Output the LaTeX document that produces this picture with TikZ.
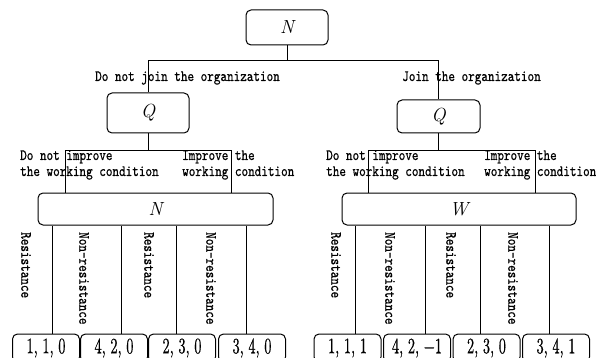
\documentclass[tikz,border=0pt]{standalone}
\usepackage{fontspec}
\usepackage{tikz}
\usetikzlibrary{calc}
\newfontfamily\labfont{lmmono10-regular.otf}[FakeStretch=0.8, FakeBold=0.7]
\newfontfamily\numfont{lmroman10-regular.otf}[FakeStretch=0.65, FakeBold=0.5]

\begin{document}
\begin{tikzpicture}[x=1pt, y=-1pt,
    box/.style={rectangle, draw, rounded corners=5pt, line width=1pt, inner sep=0pt, font=\fontsize{19}{20}\selectfont\itshape},
    leaf/.style={box, minimum width=67pt, minimum height=28pt, font=\numfont\fontsize{22}{24}\selectfont},
    lbl/.style={font=\labfont\fontsize{15.7}{16}\selectfont, inner sep=0pt},
    vlbl/.style={lbl, rotate=-90, anchor=west},
    link/.style={line width=1pt}
]
    \useasboundingbox (0,0) rectangle (596,358);

    % Decision nodes
    \node[box, minimum width=82pt, minimum height=35pt] (top) at (287,27.5) {N};
    \node[box, minimum width=82pt, minimum height=40pt] (Q1) at (148,113) {Q};
    \node[box, minimum width=83pt, minimum height=33pt] (Q2) at (438.5,116.5) {Q};
    \node[box, minimum width=235pt, minimum height=32pt] (N2) at (155.5,209) {N};
    \node[box, minimum width=234pt, minimum height=32pt] (W) at (459,209) {W};

    % Payoff boxes (cut by the lower edge)
    \node[leaf] (L1) at (46,348) {1, 1, 0};
    \node[leaf] (L2) at (114,348) {4, 2, 0};
    \node[leaf] (L3) at (182,348) {2, 3, 0};
    \node[leaf] (L4) at (252,348) {3, 4, 0};
    \node[leaf] (R1) at (347.5,348) {1, 1, 1};
    \node[leaf] (R2) at (417,348) {4, 2, −1};
    \node[leaf] (R3) at (486.5,348) {2, 3, 0};
    \node[leaf] (R4) at (556,348) {3, 4, 1};

    % Branches
    \draw[link] (top.south) -- ++(0,15) coordinate (bar) -| (Q1.north);
    \draw[link] (bar) -| (Q2.north);

    \draw[link] (Q1.south) -- ++(0,17) coordinate (qa);
    \draw[link] (qa) -| ($(N2.north west)+(28,0)$);
    \draw[link] (qa) -| ($(N2.north east)+(-42,0)$);
    \draw[link] (Q2.south) -- ++(0,17) coordinate (qb);
    \draw[link] (qb) -| ($(W.north west)+(27,0)$);
    \draw[link] (qb) -| ($(W.north east)+(-41,0)$);

    \foreach \l/\dx in {L1/6, L2/7, L3/-6, L4/-6}
        \draw[link] ($(\l.north)+(\dx,0)$) coordinate (t) -- (t |- N2.south);
    \foreach \l/\dx in {R1/7.5, R2/8, R3/-6.5, R4/-7}
        \draw[link] ($(\l.north)+(\dx,0)$) coordinate (t) -- (t |- W.south);

    % Branch labels
    \node[lbl] (jl) at (187.5,78) {Do not join the organization};
    \node[lbl] (jr) at (471.5,78) {Join the organization};
    \node[lbl, align=left, anchor=west] (ln) at (20,165) {Do not improve\\the working condition};
    \node[lbl, align=left, anchor=west] (li) at (182,165) {Improve the\\working condition};
    \node[lbl, align=left, anchor=west] (rn) at (326,165) {Do not improve\\the working condition};
    \node[lbl, align=left, anchor=west] (ri) at (484,165) {Improve the\\working condition};

    \foreach \x/\t [count=\i] in {26/Resistance, 84/Non-resistance, 149/Resistance, 211/Non-resistance}
        \node[vlbl] (lv\i) at (\x,232) {\t};
    \foreach \x/\t [count=\i] in {336/Resistance, 390/Non-resistance, 451/Resistance, 513/Non-resistance}
        \node[vlbl] (rv\i) at (\x,232) {\t};
\end{tikzpicture}
\end{document}
